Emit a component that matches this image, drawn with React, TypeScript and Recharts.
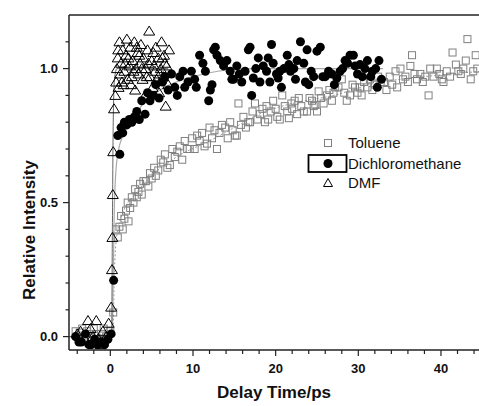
import React from "react";
import {
  ComposedChart,
  Scatter,
  Line,
  XAxis,
  YAxis,
  Legend,
  ReferenceLine,
  Label,
} from "recharts";

const FONT = "'Liberation Sans', Arial, Helvetica, sans-serif";

// axis ticks (minor ticks everywhere, labels only on the major ones)
const xTicks = [-4, -2, 0, 2, 4, 6, 8, 10, 12, 14, 16, 18, 20, 22, 24, 26, 28, 30, 32, 34, 36, 38, 40, 42, 44];
const xLabels = [0, 10, 20, 30, 40];
const yTicks = [0, 0.1, 0.2, 0.3, 0.4, 0.5, 0.6, 0.7, 0.8, 0.9, 1.0, 1.1];
const yLabels = [0, 0.5, 1.0];

// [delay ps, relative intensity]
const toluene = [
  [-4.2, 0.02], [-3.9, 0.0], [-3.7, 0.015], [-3.4, 0.03], [-3.1, 0.0], [-2.8, 0.02], [-2.5, 0.01], [-2.3, 0.0],
  [-2.0, 0.03], [-1.7, 0.01], [-1.4, -0.01], [-1.1, 0.01], [-0.8, 0.03], [-0.5, 0.0], [-0.3, 0.0], [0.0, 0.02],
  [0.35, 0.09], [0.7, 0.4], [0.9, 0.37], [1.1, 0.41], [1.3, 0.45], [1.5, 0.4], [1.7, 0.44], [1.9, 0.47],
  [2.1, 0.5], [2.2, 0.43], [2.4, 0.48], [2.6, 0.52], [2.8, 0.5], [3.0, 0.55], [3.2, 0.52], [3.4, 0.54],
  [3.6, 0.57], [3.8, 0.53], [4.0, 0.58], [4.3, 0.58], [4.6, 0.56], [4.8, 0.61], [5.0, 0.59], [5.3, 0.63],
  [5.5, 0.6], [5.8, 0.62], [6.1, 0.66], [6.4, 0.65], [6.6, 0.68], [6.9, 0.63], [7.2, 0.64], [7.5, 0.7],
  [7.8, 0.67], [8.1, 0.69], [8.4, 0.71], [8.7, 0.66], [9.0, 0.73], [9.3, 0.7], [9.6, 0.7], [9.9, 0.74],
  [10.2, 0.7], [10.5, 0.75], [10.8, 0.73], [11.1, 0.76], [11.4, 0.71], [11.7, 0.72], [12.0, 0.78], [12.3, 0.74],
  [12.6, 0.77], [12.9, 0.7], [13.2, 0.76], [13.5, 0.79], [13.9, 0.78], [14.2, 0.74], [14.5, 0.8], [14.8, 0.77],
  [15.1, 0.75], [15.3, 0.75], [15.5, 0.87], [15.8, 0.79], [16.1, 0.82], [16.4, 0.78], [16.7, 0.8], [16.9, 0.8],
  [17.2, 0.84], [17.5, 0.87], [17.8, 0.81], [18.1, 0.83], [18.4, 0.85], [18.7, 0.8], [18.9, 0.86], [19.1, 0.81],
  [19.4, 0.84], [19.7, 0.88], [20.0, 0.85], [20.2, 0.82], [20.5, 0.81], [20.8, 0.9], [21.1, 0.86], [21.4, 0.84],
  [21.6, 0.815], [21.9, 0.87], [22.0, 0.85], [22.3, 0.88], [22.6, 0.83], [22.8, 0.89], [23.1, 0.86], [23.4, 0.84],
  [23.8, 0.84], [24.1, 0.89], [24.4, 0.88], [24.6, 0.86], [24.8, 0.865], [25.0, 0.84], [25.2, 0.915], [25.5, 0.89],
  [25.8, 0.87], [26.2, 0.9], [26.5, 0.92], [26.8, 0.88], [27.0, 0.91], [27.2, 0.93], [27.6, 0.93], [28.0, 0.96],
  [28.3, 0.91], [28.6, 0.88], [29.0, 0.9], [29.3, 0.94], [29.6, 0.93], [29.9, 0.91], [30.2, 0.93], [30.4, 0.9],
  [30.7, 0.95], [31.1, 0.93], [31.4, 0.96], [31.7, 0.92], [32.0, 0.94], [32.4, 0.97], [32.7, 0.95], [33.1, 0.95],
  [33.4, 0.92], [33.8, 0.97], [34.1, 0.94], [34.5, 0.99], [34.7, 0.93], [35.1, 1.0], [35.4, 0.96], [35.7, 0.97],
  [36.0, 0.95], [36.3, 1.01], [36.5, 1.05], [36.8, 0.98], [37.1, 0.96], [37.5, 0.98], [37.8, 0.95], [38.1, 0.97],
  [38.5, 0.9], [38.7, 1.0], [39.1, 0.97], [39.5, 1.0], [39.8, 0.98], [40.1, 0.96], [40.3, 0.95], [40.7, 0.99],
  [41.1, 0.97], [41.4, 1.06], [41.8, 1.015], [42.1, 0.99], [42.4, 0.98], [42.7, 1.0], [43.0, 1.03], [43.2, 1.11],
  [43.6, 0.96], [43.9, 0.99], [44.2, 1.05], [44.4, 1.0],
];

const dichloromethane = [
  [-4.2, 0.0], [-3.8, -0.02], [-3.5, -0.02], [-3.0, 0.01], [-2.6, -0.03], [-2.3, -0.03], [-1.9, -0.01], [-1.5, -0.03],
  [-1.1, -0.02], [-0.7, -0.03], [-0.3, -0.01], [0.1, 0.01], [0.4, 0.21],
  [0.9, 0.75], [1.15, 0.68], [1.3, 0.78], [1.5, 0.76], [1.7, 0.8], [2.0, 0.79], [2.3, 0.81], [2.6, 0.8],
  [2.9, 0.82], [3.2, 0.84], [3.5, 0.81], [3.8, 0.88], [4.2, 0.83], [4.5, 0.91], [4.8, 0.88], [5.2, 0.9],
  [5.5, 0.94], [5.9, 0.89], [6.3, 0.95], [6.6, 0.97], [7.0, 0.92], [7.4, 0.98], [7.8, 0.93], [8.1, 0.9],
  [8.4, 0.97], [8.8, 0.99], [9.0, 0.93], [9.4, 0.95], [9.8, 0.99], [10.2, 0.96], [10.4, 0.93], [10.8, 1.05],
  [11.2, 1.02], [11.5, 0.99], [11.9, 0.88], [12.1, 0.92], [12.3, 0.94], [12.5, 1.07], [12.7, 1.08], [12.9, 1.05],
  [13.3, 1.03], [13.7, 1.01], [14.1, 1.03], [14.5, 0.99], [14.7, 0.96], [14.9, 0.96], [15.3, 1.01], [15.6, 0.98],
  [15.9, 0.95], [16.3, 0.99], [16.7, 1.07], [16.9, 1.08], [17.1, 0.9], [17.3, 0.965], [17.6, 1.0], [17.9, 1.04],
  [18.1, 0.95], [18.5, 1.01], [18.9, 0.99], [19.1, 1.04], [19.3, 0.95], [19.5, 1.09], [19.7, 1.02], [20.1, 0.98],
  [20.3, 0.965], [20.5, 0.99], [20.7, 0.93], [21.0, 1.0], [21.4, 1.05], [21.6, 1.015], [21.8, 0.99], [22.2, 1.0],
  [22.4, 0.96], [22.6, 1.03], [23.0, 1.1], [23.4, 1.02], [23.6, 0.95], [23.8, 1.07], [24.0, 0.94], [24.3, 0.99],
  [24.6, 0.97], [25.0, 1.065], [25.4, 1.08], [25.7, 0.97], [26.0, 0.97], [26.4, 0.99], [26.8, 0.98], [27.1, 0.94],
  [27.4, 0.965], [27.8, 0.99], [28.1, 1.0], [28.4, 1.03], [28.7, 1.02], [29.0, 1.05], [29.4, 1.05], [29.6, 1.01],
  [29.9, 0.98], [30.2, 1.015], [30.5, 0.97], [30.8, 1.0], [31.1, 1.03], [31.5, 0.97], [31.7, 0.99], [32.1, 1.0],
  [32.3, 0.93], [32.5, 1.03], [32.8, 0.96],
];

const dmf = [
  [-4.0, 0.01], [-3.6, 0.02], [-3.1, -0.01], [-2.7, 0.06], [-2.4, 0.03], [-2.1, 0.0], [-1.7, 0.06], [-1.4, -0.01],
  [-1.2, -0.03], [-0.9, 0.02], [-0.5, 0.0], [-0.2, 0.05], [0.1, 0.11], [0.2, 0.25], [0.25, 0.37], [0.3, 0.53],
  [0.35, 0.69], [0.45, 0.85], [0.6, 0.9], [0.7, 0.95], [0.8, 1.0], [0.9, 1.04], [1.0, 0.93], [1.1, 1.1],
  [1.2, 0.98], [1.3, 1.02], [1.5, 1.07], [1.6, 0.94], [1.7, 0.99], [1.9, 1.05], [2.0, 1.11], [2.1, 0.96],
  [2.3, 1.01], [2.4, 1.08], [2.6, 0.97], [2.7, 1.03], [2.9, 1.1], [3.0, 0.92], [3.1, 1.0], [3.3, 1.06],
  [3.4, 0.98], [3.6, 1.02], [3.7, 1.09], [3.9, 0.96], [4.0, 1.04], [4.2, 0.9], [4.3, 1.0], [4.5, 1.07],
  [4.7, 1.14], [4.8, 0.97], [5.0, 1.03], [5.1, 0.93], [5.3, 1.01], [5.5, 1.08], [5.6, 0.96], [5.8, 1.04],
  [5.9, 0.91], [6.1, 1.0], [6.2, 1.1], [6.4, 0.97], [6.5, 1.05], [6.7, 0.86], [6.8, 1.01], [7.0, 0.94], [7.1, 1.07],
  [1.4, 0.95], [2.2, 1.04], [2.8, 0.99], [3.5, 1.05], [4.4, 0.97], [5.2, 1.06], [6.0, 0.98], [6.6, 1.02],
  [0.95, 1.07], [1.8, 1.02], [2.5, 0.94], [3.2, 1.08], [3.8, 1.0], [4.6, 1.02], [5.4, 0.99], [6.3, 1.04],
];

// fitted curves (thin lines under the markers)
const tolueneFit = [
  [-5, 0], [0.3, 0], [0.5, 0.25], [0.8, 0.38], [1.5, 0.46], [3, 0.53], [5, 0.6], [8, 0.67], [12, 0.73],
  [15, 0.78], [18, 0.83], [22, 0.87], [27, 0.9], [32, 0.945], [38, 0.97], [45, 0.99],
];
const dichloromethaneFit = [
  [-5, 0], [0.2, 0], [0.5, 0.5], [0.8, 0.66], [1.5, 0.75], [2.5, 0.8], [4, 0.87], [6, 0.92], [8, 0.95],
  [10, 0.97], [13, 0.99], [16, 1.0], [33, 1.0],
];
const dmfFit = [[-5, 0], [0.15, 0], [0.25, 0.4], [0.35, 0.8], [0.5, 0.96], [0.8, 1.0], [7, 1.0]];

const toPts = (rows: number[][]) => rows.map(([x, y]) => ({ x, y }));

const SquareMark = (p: any) => (
  <rect x={p.cx - 3.5} y={p.cy - 3.5} width={7} height={7} fill="none" stroke="#808080" strokeWidth={1} />
);
const CircleMark = (p: any) => <circle cx={p.cx} cy={p.cy} r={4.5} fill="#000" />;
const TriangleMark = (p: any) => (
  <path
    d={`M${p.cx},${p.cy - 5}L${p.cx + 5.5},${p.cy + 4}L${p.cx - 5.5},${p.cy + 4}Z`}
    fill="none"
    stroke="#000"
    strokeWidth={1}
  />
);

function XTick({ x, y, payload }: any) {
  const major = xLabels.includes(payload.value);
  return (
    <g>
      <line x1={x} x2={x} y1={y} y2={y + (major ? 6 : 4)} stroke="#222" strokeWidth={1.2} />
      {major && (
        <text x={x} y={y + 23} textAnchor="middle" fontFamily={FONT} fontWeight="bold" fontSize={13} fill="#111">
          {payload.value}
        </text>
      )}
    </g>
  );
}

function YTick({ x, y, payload }: any) {
  const major = yLabels.some((v) => Math.abs(v - payload.value) < 1e-6);
  return (
    <g>
      <line x1={x - (major ? 6 : 3.5)} x2={x} y1={y} y2={y} stroke="#222" strokeWidth={1.2} />
      {major && (
        <text x={x - 11} y={y} dy="0.35em" textAnchor="end" fontFamily={FONT} fontWeight="bold" fontSize={13} fill="#111">
          {payload.value.toFixed(1)}
        </text>
      )}
    </g>
  );
}

function LegendBox() {
  return (
    <svg width={170} height={62} style={{ display: "block" }}>
      <rect x={19.5} y={7.5} width={7} height={7} fill="none" stroke="#808080" />
      <text x={43} y={11} dy="0.35em" fontFamily={FONT} fontSize={15} fill="#111">Toluene</text>
      <rect x={3.5} y={23} width={38} height={17} fill="none" stroke="#000" strokeWidth={1.8} />
      <circle cx={23} cy={31.5} r={4.5} fill="#000" />
      <text x={43} y={31.5} dy="0.35em" fontFamily={FONT} fontSize={15} fill="#111">Dichloromethane</text>
      <path d="M23,46.5L27.5,54.5L18.5,54.5Z" fill="none" stroke="#000" />
      <text x={43} y={51} dy="0.35em" fontFamily={FONT} fontSize={15} fill="#111">DMF</text>
    </svg>
  );
}

export default function App() {
  return (
    <div style={{ position: "absolute", left: 0, top: 0, background: "#fff" }}>
      <ComposedChart width={479} height={406} margin={{ top: 15, right: 0, bottom: 0, left: 0 }}>
        <XAxis
          type="number"
          dataKey="x"
          domain={[-5, 44.6]}
          allowDataOverflow
          ticks={xTicks}
          interval={0}
          tick={<XTick />}
          tickLine={false}
          tickSize={0}
          tickMargin={0}
          height={56}
          axisLine={{ stroke: "#222", strokeWidth: 1.5 }}
        >
          <Label
            value="Delay Time/ps"
            position="insideBottom"
            offset={8}
            style={{ fontFamily: FONT, fontWeight: "bold", fontSize: 17, fill: "#111" }}
          />
        </XAxis>
        <YAxis
          type="number"
          dataKey="y"
          domain={[-0.05, 1.2]}
          allowDataOverflow
          ticks={yTicks}
          interval={0}
          tick={<YTick />}
          tickLine={false}
          tickSize={0}
          tickMargin={0}
          width={69}
          axisLine={{ stroke: "#222", strokeWidth: 1.5 }}
        >
          <Label
            content={() => (
              <text
                transform="translate(29,230) rotate(-90)"
                textAnchor="middle"
                dy="0.35em"
                fontFamily={FONT}
                fontWeight="bold"
                fontSize={17}
                fill="#111"
              >
                Relative Intensity
              </text>
            )}
          />
        </YAxis>
        <ReferenceLine y={1.2} stroke="#222" strokeWidth={1.5} ifOverflow="visible" />
        <Line data={toPts(tolueneFit)} dataKey="y" stroke="#999" strokeWidth={1} strokeDasharray="2 2" dot={false} type="monotone" isAnimationActive={false} legendType="none" />
        <Line data={toPts(dichloromethaneFit)} dataKey="y" stroke="#aaa" strokeWidth={1.2} dot={false} type="monotone" isAnimationActive={false} legendType="none" />
        <Line data={toPts(dmfFit)} dataKey="y" stroke="#666" strokeWidth={1} dot={false} type="monotone" isAnimationActive={false} legendType="none" />
        <Scatter name="Toluene" data={toPts(toluene)} dataKey="y" shape={SquareMark} isAnimationActive={false} />
        <Scatter name="Dichloromethane" data={toPts(dichloromethane)} dataKey="y" shape={CircleMark} isAnimationActive={false} />
        <Scatter name="DMF" data={toPts(dmf)} dataKey="y" shape={TriangleMark} isAnimationActive={false} />
        <Legend
          layout="horizontal"
          verticalAlign="middle"
          content={() => <LegendBox />}
          wrapperStyle={{ position: "absolute", left: 305, top: 132, width: 170 }}
        />
      </ComposedChart>
    </div>
  );
}
